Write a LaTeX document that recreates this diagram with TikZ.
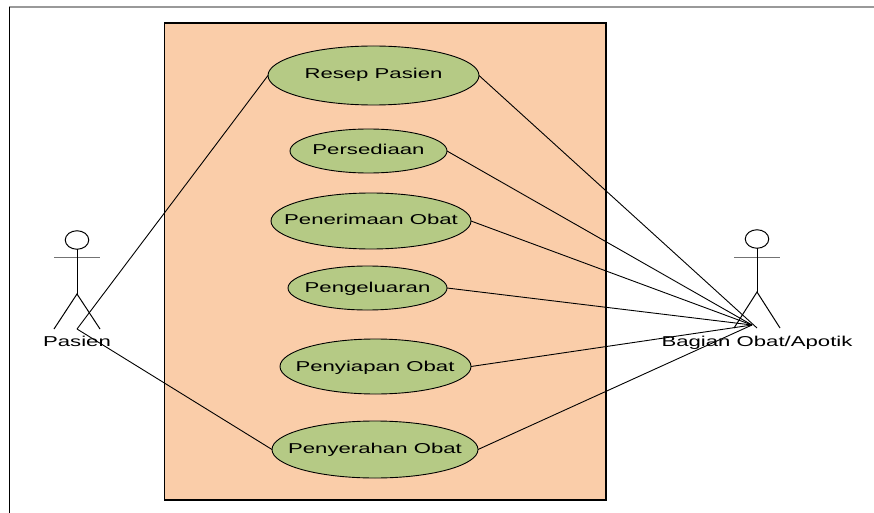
\documentclass[tikz,border=0pt]{standalone}
\usepackage{fontspec}
\setmainfont{Liberation Sans}
\newfontfamily\lblfont[FakeStretch=1.55]{Liberation Sans}
\usetikzlibrary{shapes.geometric}
\definecolor{boxfill}{HTML}{FACDA9}
\definecolor{ucfill}{HTML}{B5CA85}
\tikzset{
  usecase/.style={ellipse,draw=black,line width=0.9pt,fill=ucfill,inner sep=0pt,outer sep=0pt},
  lbl/.style={font=\lblfont\fontsize{14.3}{16}\selectfont,inner sep=0pt,text=black,anchor=base},
  conn/.style={draw=black,line width=0.9pt},
  stick/.style={draw=black,line width=1pt},
  arm/.style={draw=black!55,line width=1pt},
  head/.style={ellipse,draw=black,line width=1pt,minimum width=23.5pt,minimum height=18.5pt,inner sep=0pt,outer sep=0pt}
}
\begin{document}
\begin{tikzpicture}[x=1pt,y=-1pt]
\useasboundingbox (0,0) rectangle (874,513);
\fill[white] (0,0) rectangle (874,513);
\draw[black!40,line width=1.2pt] (9,7) -- (874,7);
\draw[black,line width=1pt] (9,7) -- (9,513);
\draw[black,line width=1.1pt,fill=boxfill] (164.5,23) rectangle (606,500);
% use cases
\node[usecase,minimum width=211pt,minimum height=59pt] (resep) at (373.5,75.5) {};
\node[usecase,minimum width=157pt,minimum height=44pt] (sedia) at (368.5,151) {};
\node[usecase,minimum width=200pt,minimum height=56pt] (terima) at (371,221) {};
\node[usecase,minimum width=159pt,minimum height=44pt] (keluar) at (367.5,288) {};
\node[usecase,minimum width=191pt,minimum height=55pt] (siap) at (375.5,366.5) {};
\node[usecase,minimum width=206pt,minimum height=57pt] (serah) at (375,449.5) {};
\node[lbl] (tresep) at (373.5,79) {Resep Pasien};
\node[lbl] (tsedia) at (368.5,155) {Persediaan};
\node[lbl] (tterima) at (371,224) {Penerimaan Obat};
\node[lbl] (tkeluar) at (367.5,292) {Pengeluaran};
\node[lbl] (tsiap) at (375,371) {Penyiapan Obat};
\node[lbl] (tserah) at (375,453) {Penyerahan Obat};
% left actor
\node[head] (h1) at (77,240) {};
\coordinate (hip1) at (77,294);
\coordinate (la1) at (54,257.5);
\coordinate (ra1) at (100,257.5);
\coordinate (ll1) at (54,329);
\coordinate (rl1) at (100,329);
\coordinate (p1) at (77,329);
\draw[arm] (la1) -- (ra1);
\draw[stick] (h1.south) -- (hip1);
\draw[stick] (ll1) -- (hip1) -- (rl1);
\node[lbl] (t1) at (77,346) {Pasien};
% right actor
\node[head] (h2) at (757,239) {};
\coordinate (hip2) at (757,292);
\coordinate (la2) at (734,257);
\coordinate (ra2) at (780,257);
\coordinate (ll2) at (734,328);
\coordinate (rl2) at (780,328);
\coordinate (p2) at (757,328);
\coordinate (p3) at (752,325);
\draw[arm] (la2) -- (ra2);
\draw[stick] (h2.south) -- (hip2);
\draw[stick] (ll2) -- (hip2) -- (rl2);
\node[lbl] (t2) at (757,346) {Bagian Obat/Apotik};
% connectors
\draw[conn] (p1) -- (resep.west);
\draw[conn] (p1) -- (serah.west);
\draw[conn] (resep.east) -- (p2);
\draw[conn] (sedia.east) -- (p3);
\draw[conn] (terima.east) -- (p3);
\draw[conn] (keluar.east) -- (p3);
\draw[conn] (siap.east) -- (p3);
\draw[conn] (serah.east) -- (p3);
\end{tikzpicture}
\end{document}
